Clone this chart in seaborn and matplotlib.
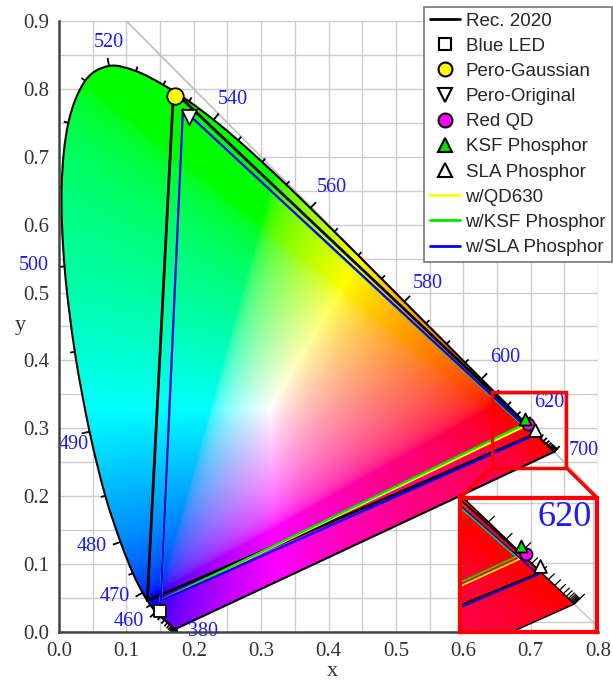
import numpy as np
import matplotlib
matplotlib.use("Agg")
import matplotlib.pyplot as plt
import seaborn as sns
from matplotlib.patches import PathPatch, Rectangle, ConnectionPatch
from matplotlib.path import Path
from matplotlib.lines import Line2D
from matplotlib.collections import LineCollection

# ---------------------------------------------------------------------------
# CIE 1931 2-degree spectral locus, 380-700 nm in 5 nm steps
wavelengths = np.arange(380, 701, 5)
locus_x = [0.1741, 0.1740, 0.1738, 0.1736, 0.1733, 0.1730, 0.1726, 0.1721,
           0.1714, 0.1703, 0.1689, 0.1669, 0.1644, 0.1611, 0.1566, 0.1510,
           0.1440, 0.1355, 0.1241, 0.1096, 0.0913, 0.0687, 0.0454, 0.0235,
           0.0082, 0.0039, 0.0139, 0.0389, 0.0743, 0.1142, 0.1547, 0.1929,
           0.2296, 0.2658, 0.3016, 0.3373, 0.3731, 0.4087, 0.4441, 0.4788,
           0.5125, 0.5448, 0.5752, 0.6029, 0.6270, 0.6482, 0.6658, 0.6801,
           0.6915, 0.7006, 0.7079, 0.7140, 0.7190, 0.7230, 0.7260, 0.7283,
           0.7300, 0.7311, 0.7320, 0.7327, 0.7334, 0.7340, 0.7344, 0.7346,
           0.7347]
locus_y = [0.0050, 0.0050, 0.0049, 0.0049, 0.0048, 0.0048, 0.0048, 0.0048,
           0.0051, 0.0058, 0.0069, 0.0086, 0.0109, 0.0138, 0.0177, 0.0227,
           0.0297, 0.0399, 0.0578, 0.0868, 0.1327, 0.2007, 0.2950, 0.4127,
           0.5384, 0.6548, 0.7502, 0.8120, 0.8338, 0.8262, 0.8059, 0.7816,
           0.7543, 0.7243, 0.6923, 0.6589, 0.6245, 0.5896, 0.5547, 0.5202,
           0.4866, 0.4544, 0.4242, 0.3965, 0.3725, 0.3514, 0.3340, 0.3197,
           0.3083, 0.2993, 0.2920, 0.2859, 0.2809, 0.2770, 0.2740, 0.2717,
           0.2700, 0.2689, 0.2680, 0.2673, 0.2666, 0.2660, 0.2656, 0.2654,
           0.2653]

# Wavelength labels along the locus
label_nm = [380, 460, 470, 480, 490, 500, 520, 540, 560, 580, 600, 620, 700]

# Gamut triangles (red, green, blue primaries)
rec2020_x = [0.708, 0.170, 0.131]
rec2020_y = [0.292, 0.797, 0.046]
qd630_x = [0.691, 0.184, 0.151]
qd630_y = [0.303, 0.770, 0.046]
ksf_x = [0.688, 0.184, 0.151]
ksf_y = [0.305, 0.770, 0.046]
sla_x = [0.706, 0.184, 0.151]
sla_y = [0.290, 0.770, 0.046]

# Emitter chromaticities
blue_led = (0.150, 0.031)
pero_gaussian = (0.172, 0.790)
pero_original = (0.193, 0.759)
red_qd = (0.696, 0.307)
ksf_phosphor = (0.692, 0.314)
sla_phosphor = (0.707, 0.297)

# Zoomed window
zoom_x = (0.643, 0.753)
zoom_y = (0.242, 0.354)

# ---------------------------------------------------------------------------
# Text placement for wavelength labels (data coords)
label_pos = {380: (0.213, 0.000), 460: (0.103, 0.015), 470: (0.083, 0.052),
             480: (0.048, 0.126), 490: (0.022, 0.276), 500: (-0.037, 0.540),
             520: (0.074, 0.869), 540: (0.258, 0.784), 560: (0.405, 0.655),
             580: (0.548, 0.514), 600: (0.662, 0.405), 620: (0.727, 0.338),
             700: (0.779, 0.268)}

sns.set_theme(style="white")
plt.rcParams["font.family"] = ["Liberation Serif", "DejaVu Serif"]
SANS = ["Liberation Sans", "DejaVu Sans"]
LABEL_BLUE = "#1a1aff"

# Chromaticity colour field: xyY (Y=1) -> XYZ -> sRGB, normalised
M = np.array([[3.2406, -1.5372, -0.4986],
              [-0.9689, 1.8758, 0.0415],
              [0.0557, -0.2040, 1.0570]])
gx = np.linspace(0.0, 0.8, 700)
gy = np.linspace(0.0, 0.9, 780)
GX, GY = np.meshgrid(gx, gy)
GYs = np.maximum(GY, 1e-3)
XYZ = np.stack([GX / GYs, np.ones_like(GX), (1 - GX - GYs) / GYs], axis=-1)
rgb = XYZ @ M.T
rgb = np.clip(rgb, 0, None)
rgb = rgb / np.maximum(rgb.max(axis=-1, keepdims=True), 1e-9)
rgb = np.where(rgb <= 0.0031308, 12.92 * rgb, 1.055 * np.power(rgb, 1 / 2.4) - 0.055)
rgb = np.clip(rgb, 0, 1)

lx = np.array(locus_x)
ly = np.array(locus_y)
P = np.column_stack([lx, ly])


def locus_path():
    """Smooth (Catmull-Rom as cubic Bezier) outline closed by the purple line."""
    n = len(P)
    verts = [P[0]]
    codes = [Path.MOVETO]
    for i in range(n - 1):
        p0 = P[max(i - 1, 0)]
        p1 = P[i]
        p2 = P[i + 1]
        p3 = P[min(i + 2, n - 1)]
        c1 = p1 + (p2 - p0) / 6.0
        c2 = p2 - (p3 - p1) / 6.0
        verts += [c1, c2, p2]
        codes += [Path.CURVE4] * 3
    verts += [P[0], P[0]]
    codes += [Path.LINETO, Path.CLOSEPOLY]
    return Path(np.array(verts), codes)


def tick_segments(major_len, minor_len):
    segs = []
    n = len(lx)
    for i, wl in enumerate(wavelengths):
        a = max(i - 1, 0)
        b = min(i + 1, n - 1)
        tx, ty = lx[b] - lx[a], ly[b] - ly[a]
        norm = np.hypot(tx, ty)
        if norm == 0:
            continue
        nx, ny = -ty / norm, tx / norm
        length = major_len if wl in label_nm else minor_len
        segs.append([(lx[i], ly[i]), (lx[i] + nx * length, ly[i] + ny * length)])
    return segs


def draw_diagram(ax, scale=1.0, line_scale=1.0, window=None):
    ax.set_axisbelow(True)
    im = ax.imshow(rgb, extent=(0, 0.8, 0, 0.9), origin="lower", aspect="auto",
                   interpolation="bilinear", zorder=1)
    outline = PathPatch(locus_path(), fc="none", ec="black",
                        lw=1.5 * line_scale, zorder=2)
    ax.add_patch(outline)
    im.set_clip_path(outline)

    ax.add_collection(LineCollection(tick_segments(0.012, 0.007), colors="black",
                                     linewidths=1.3 * line_scale, zorder=2))

    # x + y = 1 boundary
    diag_x = np.array([0.1, 0.8])
    sns.lineplot(x=diag_x, y=1 - diag_x, color="#bdbdbd", lw=1.2 * line_scale,
                 ax=ax, zorder=0.9, legend=False)

    def tri(xs, ys, color, lw, z):
        sns.lineplot(x=xs + xs[:1], y=ys + ys[:1], sort=False, estimator=None,
                     color=color, lw=lw, ax=ax, zorder=z, legend=False)

    tri(rec2020_x, rec2020_y, "black", 2.0 * line_scale, 3)
    tri(qd630_x, qd630_y, "#ffff00", 1.6 * line_scale, 3.1)
    tri(ksf_x, ksf_y, "#00ee00", 1.6 * line_scale, 3.2)
    tri(sla_x, sla_y, "#0000ff", 1.6 * line_scale, 3.3)

    def pt(p, marker, fc, s, z):
        sns.scatterplot(x=[p[0]], y=[p[1]], marker=marker, color=fc, s=s,
                        edgecolor="black", linewidth=1.3, ax=ax, zorder=z,
                        legend=False)

    pt(blue_led, "s", "white", 80, 5)
    pt(pero_gaussian, "o", "#ffff00", 140, 5)
    pt(pero_original, "v", "white", 120, 5)
    pt(red_qd, "o", "#ff00ff", 75, 5)
    pt(ksf_phosphor, "^", "#00dd00", 75, 5.1)
    pt(sla_phosphor, "^", "white", 85, 5.2)

    for wl in label_nm:
        x0, y0 = label_pos[wl]
        if window is not None:
            (xa, xb), (ya, yb) = window
            if not (xa < x0 < xb and ya < y0 < yb):
                continue
        t = ax.text(x0, y0, str(wl), color=LABEL_BLUE, fontsize=14.5 * scale,
                    ha="center", va="center", zorder=6)
        t.set_clip_on(window is not None)

    ax.set_xlim(0, 0.8)
    ax.set_ylim(0, 0.9)


fig = plt.figure(figsize=(6.13, 6.80), dpi=100)
ax = fig.add_axes([59 / 613, 48 / 680, 539 / 613, 611 / 680])
draw_diagram(ax)

ax.set_xticks(np.arange(0, 0.81, 0.1))
ax.set_yticks(np.arange(0, 0.91, 0.1))
ax.set_xticks(np.arange(0.05, 0.8, 0.1), minor=True)
ax.set_yticks(np.arange(0.05, 0.9, 0.1), minor=True)
ax.set_xticklabels([f"{v:.1f}" for v in np.arange(0, 0.81, 0.1)])
ax.set_yticklabels([f"{v:.1f}" for v in np.arange(0, 0.91, 0.1)])
ax.grid(True, which="both", color="#cccccc", lw=1.0)
ax.tick_params(which="major", direction="out", length=5, width=1.4,
               color="#444444", labelsize=15, labelcolor="#333333", pad=2)
ax.tick_params(which="minor", length=0)
for side in ("top", "right"):
    ax.spines[side].set_visible(False)
for side in ("left", "bottom"):
    ax.spines[side].set_color("#444444")
    ax.spines[side].set_linewidth(1.8)
    ax.spines[side].set_zorder(7)
ax.set_xlabel("x", fontsize=16, color="#333333")
ax.set_ylabel("y", fontsize=16, color="#333333", rotation=0)
ax.xaxis.set_label_coords(0.508, -0.064)
ax.xaxis.label.set_va("center")
ax.yaxis.set_label_coords(-0.072, 0.502)
ax.yaxis.label.set_va("center")

# Highlight box and magnified view of the red corner
ax.add_patch(Rectangle((zoom_x[0], zoom_y[0]), zoom_x[1] - zoom_x[0],
                       zoom_y[1] - zoom_y[0], fill=False, ec="red", lw=2.5,
                       zorder=8))
axins = fig.add_axes([460 / 613, 48 / 680, 137 / 613, 134 / 680])
draw_diagram(axins, scale=1.8, line_scale=0.7, window=(zoom_x, zoom_y))
axins.set_xlim(*zoom_x)
axins.set_ylim(*zoom_y)
axins.set_xticks(np.arange(0.65, 0.76, 0.05))
axins.set_yticks(np.arange(0.25, 0.36, 0.05))
axins.tick_params(length=0, labelbottom=False, labelleft=False)
axins.grid(True, color="#cccccc", lw=1.0)
axins.set_facecolor("white")
for sp in axins.spines.values():
    sp.set_visible(True)
    sp.set_color("red")
    sp.set_linewidth(3)
    sp.set_zorder(9)

for xa, xb in ((zoom_x[0], 0.0), (zoom_x[1], 1.0)):
    con = ConnectionPatch(xyA=(xa, zoom_y[0]), coordsA=ax.transData,
                          xyB=(xb, 1.0), coordsB=axins.transAxes,
                          color="red", lw=2.5, zorder=8)
    fig.add_artist(con)

handles = [
    Line2D([], [], color="black", lw=2),
    Line2D([], [], ls="none", marker="s", mfc="white", mec="black", ms=8, mew=1.5),
    Line2D([], [], ls="none", marker="o", mfc="#ffff00", mec="black", ms=10, mew=1.5),
    Line2D([], [], ls="none", marker="v", mfc="white", mec="black", ms=10, mew=1.5),
    Line2D([], [], ls="none", marker="o", mfc="#ff00ff", mec="black", ms=10, mew=1.5),
    Line2D([], [], ls="none", marker="^", mfc="#00dd00", mec="black", ms=10, mew=1.5),
    Line2D([], [], ls="none", marker="^", mfc="white", mec="black", ms=10, mew=1.5),
    Line2D([], [], color="#ffff00", lw=2),
    Line2D([], [], color="#00ee00", lw=2),
    Line2D([], [], color="#0000ff", lw=2),
]
labels = ["Rec. 2020", "Blue LED", "Pero-Gaussian", "Pero-Original", "Red QD",
          "KSF Phosphor", "SLA Phosphor", "w/QD630", "w/KSF Phosphor",
          "w/SLA Phosphor"]
leg = fig.legend(handles, labels, loc="upper right",
                 bbox_to_anchor=(0.998, 0.990), bbox_transform=fig.transFigure,
                 borderaxespad=0, frameon=True, fancybox=False,
                 prop={"family": SANS, "size": 13.5}, labelspacing=0.43,
                 handlelength=1.6, handletextpad=0.3, borderpad=0.3)
leg.get_frame().set_edgecolor("#777777")
leg.get_frame().set_linewidth(1.2)
leg.get_frame().set_alpha(1)
leg.set_zorder(20)

fig.savefig("out.png", dpi=100, facecolor="white")
